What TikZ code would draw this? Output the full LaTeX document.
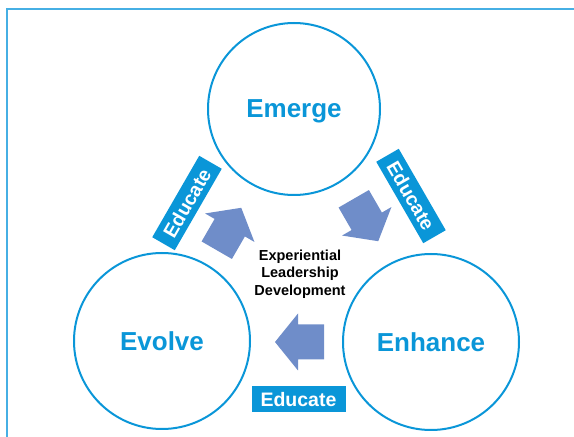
\documentclass[tikz,border=0pt]{standalone}
\usepackage{fontspec}
\setmainfont{Liberation Sans}
\usetikzlibrary{positioning}
\definecolor{ringblue}{RGB}{10,150,216}
\definecolor{framblue}{RGB}{70,175,228}
\definecolor{flowblue}{RGB}{111,141,201}
\tikzset{
  stage/.style ={draw=ringblue, line width=2pt, circle, inner sep=0pt, text=ringblue, text depth=0pt, font=\fontsize{26}{26}\selectfont\bfseries},
  tag/.style   ={fill=ringblue, minimum width=94pt, minimum height=26pt, inner sep=0pt, text=white, text depth=0pt, font=\fontsize{19.5}{20}\selectfont\bfseries},
  hub/.style   ={align=center, font=\fontsize{14.5}{17.5}\selectfont\bfseries},
  flow/.pic    ={\fill[flowblue] (-24.5,-17.5) -- (1.5,-17.5) -- (1.5,-28.5) -- (24.5,0)
                  -- (1.5,28.5) -- (1.5,17.5) -- (-24.5,17.5) -- cycle;},
}

\begin{document}
\begin{tikzpicture}[x=1pt, y=1pt]
  \useasboundingbox (0,0) rectangle (574,437);
  \draw[framblue, line width=2pt] (7,0) -- (7,428) -- (574,428);

  % the three stages
  \node[stage, minimum size=172pt] (em) at (294,328) {Emerge};
  \node[stage, minimum size=176pt] (ev) at (162,96)  {Evolve};
  \node[stage, minimum size=176pt] (en) at (431,95)  {Enhance};
  \node[hub] (eld) at (300,163) {Experiential\\Leadership\\Development};

  % cycle arrows
  \pic[rotate=60]  at (229,208)  {flow};
  \pic[rotate=-60] at (366,217)  {flow};
  \pic[rotate=180] at (299.5,95) {flow};

  \node[tag, rotate=60]  (edl) at (187,234)  {Educate};
  \node[tag, rotate=-60] (edr) at (411,241)  {Educate};
  \node[tag]             (edb) at (298.5,38) {Educate};
\end{tikzpicture}
\end{document}
